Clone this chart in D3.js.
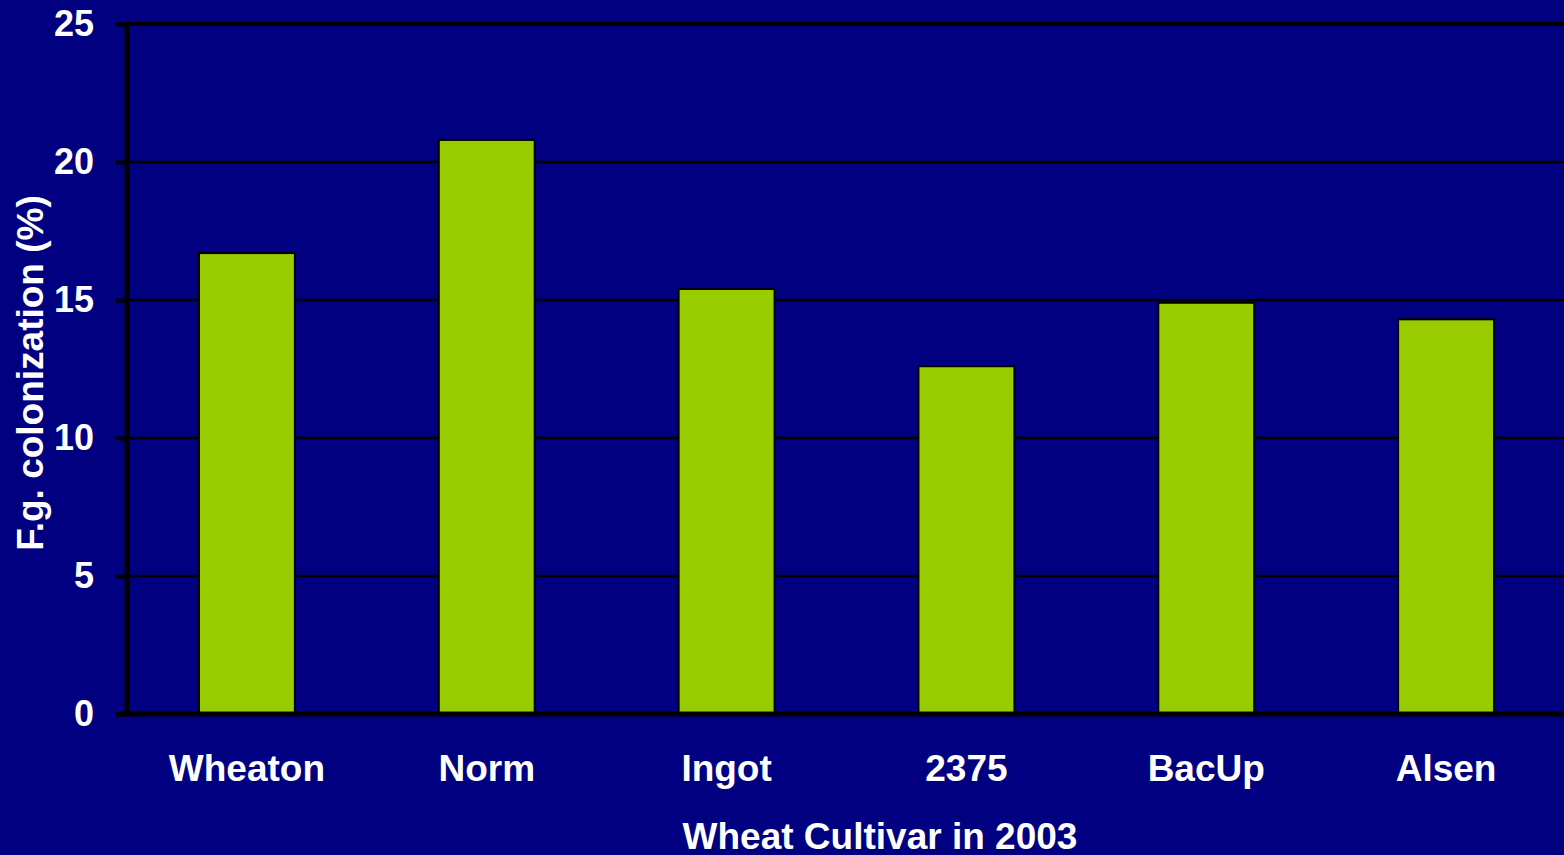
<!DOCTYPE html>
<html>
<head>
<meta charset="utf-8">
<script src="https://cdn.jsdelivr.net/npm/d3@7"></script>
<style>
  html, body { margin: 0; padding: 0; background: #000080; }
  svg { display: block; }
  text { font-family: "Liberation Sans", Arial, sans-serif; font-weight: bold; fill: #fff; }
</style>
</head>
<body>
<svg id="canvas" width="1564" height="855"></svg>
<script>
// Data
let cultivars = ['Wheaton', 'Norm', 'Ingot', '2375', 'BacUp', 'Alsen'];
let colonization = [16.7, 20.8, 15.4, 12.6, 14.9, 14.3];
let yTicks = [0, 5, 10, 15, 20, 25];

let canvas = d3.select('#canvas');
let width = 1564, height = 855;
let margin = { top: 24, right: -2, bottom: 141, left: 127 };

let x = d3.scaleBand()
    .domain(cultivars)
    .range([margin.left, width - margin.right])
    .paddingInner(0.6)
    .paddingOuter(0.3);

let y = d3.scaleLinear()
    .domain([0, 25])
    .range([height - margin.bottom, margin.top]);

// Gridlines
canvas.append('g')
    .selectAll('line')
    .data(yTicks.filter((d) => d > 0))
    .enter()
    .append('line')
    .attr('x1', margin.left)
    .attr('x2', width)
    .attr('y1', (d) => y(d))
    .attr('y2', (d) => y(d))
    .attr('stroke', '#000')
    .attr('stroke-width', (d) => d === 25 ? 4 : 2.5);

// Bars
canvas.append('g')
    .selectAll('rect')
    .data(cultivars)
    .enter()
    .append('rect')
    .attr('x', (d) => x(d))
    .attr('y', (d, i) => y(colonization[i]))
    .attr('width', x.bandwidth())
    .attr('height', (d, i) => y(0) - y(colonization[i]))
    .attr('fill', '#99CC00')
    .attr('stroke', '#000')
    .attr('stroke-width', 2);

// Y axis
let yAxis = canvas.append('g')
    .attr('transform', `translate(${margin.left},0)`)
    .call(d3.axisLeft(y).tickValues(yTicks).tickSize(11).tickPadding(22));
yAxis.select('.domain').attr('stroke', '#000').attr('stroke-width', 5)
    .attr('d', `M0,${margin.top - 2}V${y(0)}`);
yAxis.selectAll('.tick line').attr('stroke', '#000').attr('stroke-width', 4);
yAxis.selectAll('.tick text')
    .attr('font-size', 36)
    .attr('font-family', '"Liberation Sans", Arial, sans-serif')
    .attr('font-weight', 'bold')
    .attr('fill', '#fff');

// X axis line
canvas.append('line')
    .attr('x1', margin.left - 11)
    .attr('x2', width)
    .attr('y1', y(0))
    .attr('y2', y(0))
    .attr('stroke', '#000')
    .attr('stroke-width', 5);

// Category labels
canvas.append('g')
    .selectAll('text')
    .data(cultivars)
    .enter()
    .append('text')
    .attr('x', (d) => x(d) + x.bandwidth() / 2)
    .attr('y', 781)
    .attr('text-anchor', 'middle')
    .attr('font-size', 37)
    .text((d) => d);

// Axis titles
canvas.append('text')
    .attr('x', 880)
    .attr('y', 849)
    .attr('text-anchor', 'middle')
    .attr('font-size', 37)
    .text('Wheat Cultivar in 2003');

canvas.append('text')
    .attr('transform', 'translate(43,373) rotate(-90)')
    .attr('text-anchor', 'middle')
    .attr('font-size', 37)
    .text('F.g. colonization (%)');
</script>
</body>
</html>
